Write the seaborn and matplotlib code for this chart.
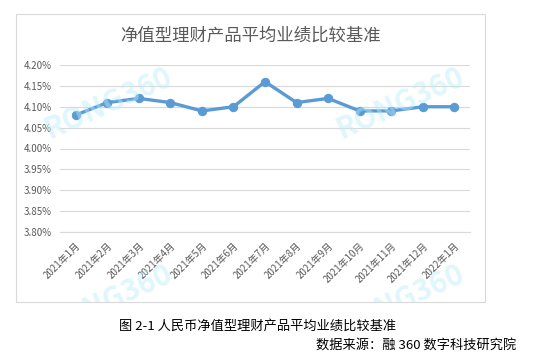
import matplotlib
matplotlib.use('Agg')
import matplotlib.pyplot as plt
import matplotlib.ticker as mticker
from matplotlib.patches import Rectangle
import seaborn as sns
import pandas as pd

months = ['2021年1月', '2021年2月', '2021年3月', '2021年4月', '2021年5月', '2021年6月',
          '2021年7月', '2021年8月', '2021年9月', '2021年10月', '2021年11月', '2021年12月',
          '2022年1月']
rates = [4.08, 4.11, 4.12, 4.11, 4.09, 4.10, 4.16, 4.11, 4.12, 4.09, 4.09, 4.10, 4.10]
yticks = [3.80, 3.85, 3.90, 3.95, 4.00, 4.05, 4.10, 4.15, 4.20]

df = pd.DataFrame({'month': months, 'rate': rates})

sns.set_style('white')
plt.rcParams['font.family'] = ['Noto Sans CJK SC', 'DejaVu Sans']

fig = plt.figure(figsize=(5.35, 3.64), dpi=100)
W, H = 535, 364
# chart frame
frame = Rectangle((16 / W, 1 - 302 / H), (485 - 16) / W, (302 - 14) / H,
                  transform=fig.transFigure, fill=False, edgecolor='#d9d9d9', lw=0.8)
fig.patches.append(frame)

ax = fig.add_axes([60 / W, 1 - 232 / H, (470 - 60) / W, (232 - 65) / H])
sns.lineplot(data=df, x='month', y='rate', ax=ax, color='#5b9bd5', lw=2.4,
             marker='o', markersize=6, markeredgecolor='#5b9bd5', sort=False)

ax.set_xlim(-0.5, len(months) - 0.5)
ax.set_ylim(3.80, 4.20)
ax.set_yticks(yticks)
ax.yaxis.set_major_formatter(mticker.FuncFormatter(lambda v, p: f'{v:.2f}%'))
ax.grid(axis='y', color='#d9d9d9', lw=0.8)
ax.set_axisbelow(True)
for s in ['top', 'right', 'left']:
    ax.spines[s].set_visible(False)
ax.spines['bottom'].set_color('#d9d9d9')
ax.set_xlabel('')
ax.set_ylabel('')
ax.set_xticks(range(len(months)))
ax.set_xticklabels(months, rotation=45, ha='right', rotation_mode='anchor')
ax.xaxis.set_minor_locator(mticker.FixedLocator([i - 0.5 for i in range(len(months) + 1)]))
ax.tick_params(axis='x', which='major', length=0, labelsize=7, labelcolor='#595959', pad=6)
ax.tick_params(axis='x', which='minor', length=4, color='#d9d9d9', width=0.8)
ax.tick_params(axis='y', length=0, labelsize=7, labelcolor='#595959', pad=6)

fig.text(250 / W, 1 - 36 / H, '净值型理财产品平均业绩比较基准', ha='center', va='center',
         fontsize=12.5, color='#595959')

# watermarks, clipped to the chart frame
clip = Rectangle((16 / W, 1 - 302 / H), (485 - 16) / W, (302 - 14) / H,
                 transform=fig.transFigure, visible=False)
fig.patches.append(clip)
for (x, y) in [(108, 103), (400, 103), (108, 300), (400, 300)]:
    t = fig.text(x / W, 1 - y / H, 'RONG360', ha='center', va='center', fontsize=21,
                 color='#b8ecfa', alpha=0.45, rotation=24, fontweight='bold', zorder=0)
    t.set_clip_path(clip)

fig.text(258 / W, 1 - 326 / H, '图 2-1 人民币净值型理财产品平均业绩比较基准', ha='center', va='center',
         fontsize=9.5, color='black')
fig.text(516 / W, 1 - 346 / H, '数据来源：融 360 数字科技研究院', ha='right', va='center',
         fontsize=9.5, color='black')

fig.savefig('out.png', dpi=100)
